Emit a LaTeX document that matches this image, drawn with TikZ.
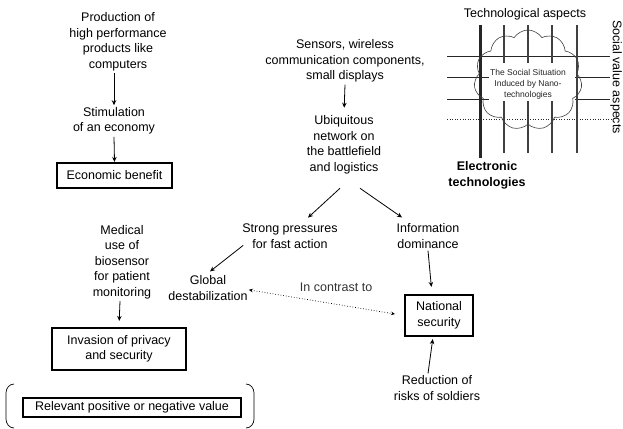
\documentclass[tikz,border=0pt]{standalone}
\usepackage{fontspec}
\setmainfont{Liberation Sans}
\usetikzlibrary{arrows.meta,shapes.symbols,calc}

\tikzset{
  txt/.style={align=center, inner sep=2pt, font=\fontsize{12.5}{15.5}\selectfont},
  valbox/.style={txt, draw, line width=2.2pt, inner sep=0pt},
  arr/.style={-{Stealth[length=5pt,width=4.5pt]}, line width=0.8pt},
  tarr/.style={{Stealth[length=4pt,width=3.5pt]}-{Stealth[length=4pt,width=3.5pt]}, line width=0.7pt, dotted},
  vline/.style={line width=2pt, black!75},
  hline/.style={line width=0.6pt, black!85},
}

\begin{document}
\begin{tikzpicture}[x=1pt,y=-1pt]
\useasboundingbox (0,0) rectangle (623,428);

% ---- economic chain ----
\node[txt] (prod) at (118,42) {Production of\\high performance\\products like\\computers};
\node[txt] (stim) at (114,121) {Stimulation\\of an economy};
\node[valbox, minimum width=115pt, minimum height=25pt] (econ) at (114.5,175.5) {Economic benefit};
\draw[arr] (prod.south -| stim) -- (stim.north);
\draw[arr] (stim.south) -- (econ.north);

% ---- military chain ----
\node[txt] (sens) at (345,61) {Sensors, wireless\\communication components,\\small displays};
\node[txt] (ubiq) at (344,145) {Ubiquitous\\network on\\the battlefield\\and logistics};
\draw[arr, shorten >=6pt] (sens.south) -- (ubiq.north);

\node[txt] (strong) at (290,236) {Strong pressures\\for fast action};
\node[txt] (info) at (428,236) {Information\\dominance};
\draw[arr] ([shift={(-4,12)}]ubiq.south) -- ([shift={(18,-4)}]strong.north);
\draw[arr] ([shift={(16,12)}]ubiq.south) -- ([shift={(-26,-4)}]info.north);

\node[txt] (glob) at (208,288) {Global\\destabilization};
\draw[arr] ([shift={(3,-5)}]strong.south west) -- ([shift={(2,-2)}]glob.north);

\node[valbox, minimum width=68pt, minimum height=41pt] (nat) at (439,315.5) {National\\security};
\draw[arr, shorten >=7pt] (info.south) -- ([xshift=-7pt]nat.north);

\node[txt] (red) at (437,388) {Reduction of\\risks of soldiers};
\draw[arr, shorten >=2pt] ([xshift=-9pt]red.north) -- ([xshift=-6pt]nat.south);

\draw[tarr, shorten >=9pt, shorten <=-1pt] ([yshift=-2pt]glob.east) -- (nat.west)
  node[pos=0.56, above=10pt, txt, text=black!80] (contrast) {In contrast to};

% ---- medical chain ----
\node[txt] (med) at (122,262) {Medical\\use of\\biosensor\\for patient\\monitoring};
\node[valbox, minimum width=134pt, minimum height=42pt] (inv) at (119,349) {Invasion of privacy\\and security};
\draw[arr, shorten >=6pt] (med.south -| inv.north) ++(1,0) -- (inv.north);

% ---- legend ----
\node[valbox, line width=2pt, minimum width=218pt, minimum height=19pt] (legend) at (132,407.5) {Relevant positive or negative value};
\draw[line width=0.7pt] (14,384) to[out=180,in=90] (6,393) -- (6,419) to[out=-90,in=180] (14,428);
\draw[line width=0.7pt] (246,384) to[out=0,in=90] (254,393) -- (254,419) to[out=-90,in=0] (246,428);

% ---- aspect grid with cloud ----
\foreach \yy in {56,77,99} \draw[hline] (447,\yy) -- (610,\yy);
\draw[hline, dotted] (447,119) -- (612,119);
\draw[line width=2.8pt, black!85] (480.5,25) -- (480.5,158);
\foreach \xx in {504,528,552,576.5} \draw[vline] (\xx,25) -- (\xx,153);
\fill[white] (489,63) rectangle (575,101);
\node[cloud, cloud puffs=11, cloud puff arc=115, draw=black!75, line width=0.6pt,
      minimum width=108pt, minimum height=100pt, aspect=1.1] (cloud) at (528,80) {};
\node[align=center, inner sep=0pt, font=\fontsize{8.5}{11}\selectfont, text=black!85] (situ) at (528,84)
  {The Social Situation\\Induced by Nano-\\technologies};

\node[txt] (tech) at (525,14) {Technological aspects};
\node[txt, rotate=-90] (soc) at (616,77) {Social value aspects};
\node[txt, font=\fontsize{12.5}{15.5}\selectfont\bfseries] (elec) at (487,175.5) {Electronic\\technologies};
\end{tikzpicture}
\end{document}
